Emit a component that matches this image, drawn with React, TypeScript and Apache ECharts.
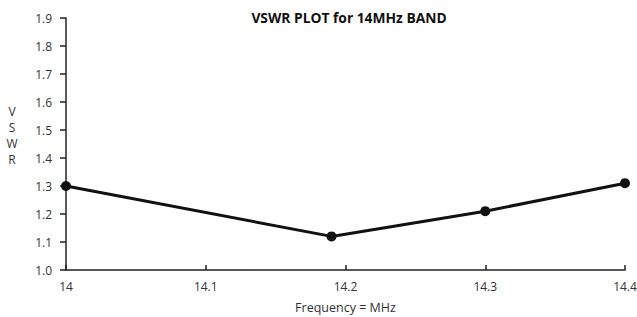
import React, { useEffect, useRef } from "react";
import * as echarts from "echarts";

const frequencies = [14.0, 14.19, 14.3, 14.4];
const vswrValues = [1.3, 1.12, 1.21, 1.31];
const titleText = "VSWR PLOT for 14MHz BAND";
const xAxisName = "Frequency = MHz";
const yAxisLetters = ["V", "S", "W", "R"];

export default function App() {
  const ref = useRef<HTMLDivElement>(null);
  useEffect(() => {
    if (!ref.current) return;
    const chart = echarts.init(ref.current, null, { renderer: "svg" });
    const font = "'Open Sans', 'DejaVu Sans', sans-serif";
    chart.setOption({
      animation: false,
      backgroundColor: "#ffffff",
      title: {
        text: titleText,
        left: 344,
        top: 5,
        textAlign: "center",
        textStyle: { fontFamily: font, fontSize: 13.8, fontWeight: "bold", color: "#111" },
      },
      graphic: [
        {
          type: "text",
          x: 12,
          y: 135,
          style: {
            text: yAxisLetters.join("\n"),
            fontFamily: font,
            fontSize: 12,
            lineHeight: 16,
            fill: "#333",
            align: "center",
            verticalAlign: "middle",
          },
        },
      ],
      grid: { left: 66, right: 12, top: 18, bottom: 47, outerBoundsMode: "none", containLabel: false },
      xAxis: {
        type: "value",
        min: 14,
        max: 14.4,
        interval: 0.1,
        name: xAxisName,
        nameLocation: "middle",
        nameGap: 31,
        nameTextStyle: { fontFamily: font, fontSize: 12.5, color: "#333" },
        axisLine: { show: true, lineStyle: { color: "#222", width: 1.5 } },
        axisTick: { show: true, inside: true, length: 5, lineStyle: { color: "#222", width: 1.5 } },
        axisLabel: {
          fontFamily: font,
          fontSize: 12,
          color: "#333",
          margin: 10,
          formatter: (v: number) => (Math.abs(v - 14) < 1e-9 ? "14" : v.toFixed(1)),
        },
        splitLine: { show: false },
      },
      yAxis: {
        type: "value",
        min: 1.0,
        max: 1.9,
        interval: 0.1,
        axisLine: { show: true, lineStyle: { color: "#222", width: 1.5 } },
        axisTick: { show: true, inside: false, length: 6, lineStyle: { color: "#222", width: 1.5 } },
        axisLabel: {
          fontFamily: font,
          fontSize: 12,
          color: "#333",
          margin: 14,
          formatter: (v: number) => v.toFixed(1),
        },
        splitLine: { show: false },
      },
      series: [
        {
          type: "line",
          data: frequencies.map((f, i) => [f, vswrValues[i]]),
          symbol: "circle",
          symbolSize: 10,
          lineStyle: { color: "#111", width: 3 },
          itemStyle: { color: "#111" },
        },
      ],
    });
    return () => chart.dispose();
  }, []);
  return <div ref={ref} style={{ width: 637, height: 317, position: "absolute", left: 0, top: 0 }} />;
}
